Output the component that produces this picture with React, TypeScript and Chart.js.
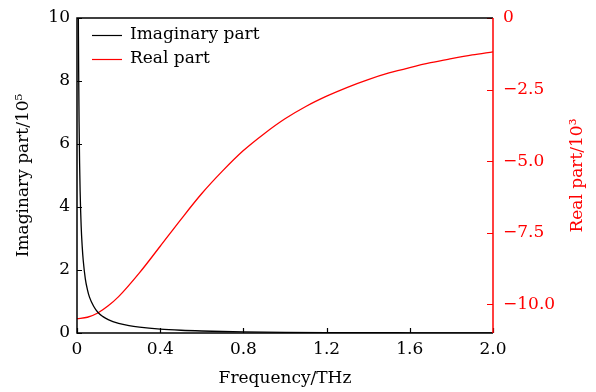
import { useEffect, useRef } from 'react';
import { Chart, registerables } from 'chart.js';

Chart.register(...registerables);

// Frequency (THz) samples for the imaginary part curve
const freqImag = [0.0065, 0.008, 0.01, 0.0125, 0.015, 0.02, 0.025, 0.03, 0.04, 0.05, 0.06, 0.08, 0.1, 0.125, 0.15, 0.2, 0.25, 0.3, 0.4, 0.5, 0.6, 0.7, 0.8, 0.9, 1.0, 1.2, 1.4, 1.6, 1.8, 2.0];
// Imaginary part (x10^5)
const imagValues = [10.0, 8.3, 6.7, 5.4, 4.5, 3.4, 2.75, 2.3, 1.72, 1.38, 1.14, 0.85, 0.66, 0.52, 0.425, 0.305, 0.232, 0.185, 0.124, 0.0874, 0.0636, 0.0474, 0.036, 0.0279, 0.0219, 0.0142, 0.0096, 0.0067, 0.0049, 0.0037];

// Frequency (THz) samples for the real part curve
const freqReal = [0, 0.05, 0.1, 0.15, 0.2, 0.3, 0.4, 0.5, 0.6, 0.7, 0.8, 0.9, 1.0, 1.1, 1.2, 1.3, 1.4, 1.5, 1.6, 1.7, 1.8, 1.9, 2.0];
// Real part (x10^3)
const realValues = [-10.5, -10.45, -10.3, -10.05, -9.73, -8.9, -7.97, -7.03, -6.13, -5.34, -4.63, -4.04, -3.52, -3.09, -2.73, -2.42, -2.15, -1.92, -1.73, -1.56, -1.42, -1.29, -1.18];

const xTicks = [0, 0.4, 0.8, 1.2, 1.6, 2.0];
const leftTicks = [0, 2, 4, 6, 8, 10];
const rightTicks = [-10, -7.5, -5, -2.5, 0];

const seriesLabels = ['Imaginary part', 'Real part'];
const xTitle = 'Frequency/THz';
const leftTitle = 'Imaginary part/10⁵';
const rightTitle = 'Real part/10³';

const FONT = '"DejaVu Serif", serif';
const FS = 17;
const RED = '#ff0000';

const framePlugin = {
  id: 'frameTicks',
  afterDraw(chart: any) {
    const { ctx, chartArea: a, scales } = chart;
    const tl = 5;
    ctx.save();
    ctx.lineWidth = 1.2;
    // ticks
    ctx.strokeStyle = '#000';
    ctx.beginPath();
    scales.x.ticks.forEach((t: any) => {
      const px = Math.round(scales.x.getPixelForValue(t.value)) + 0.5;
      ctx.moveTo(px, a.bottom);
      ctx.lineTo(px, a.bottom - tl);
    });
    scales.y.ticks.forEach((t: any) => {
      const py = Math.round(scales.y.getPixelForValue(t.value)) + 0.5;
      ctx.moveTo(a.left, py);
      ctx.lineTo(a.left + tl, py);
    });
    ctx.stroke();
    ctx.strokeStyle = RED;
    ctx.beginPath();
    scales.y2.ticks.forEach((t: any) => {
      const py = Math.round(scales.y2.getPixelForValue(t.value)) + 0.5;
      ctx.moveTo(a.right, py);
      ctx.lineTo(a.right - tl - 1, py);
    });
    ctx.stroke();
    // frame
    ctx.lineWidth = 1.5;
    ctx.strokeStyle = '#000';
    ctx.beginPath();
    ctx.moveTo(a.right, a.top);
    ctx.lineTo(a.left, a.top);
    ctx.lineTo(a.left, a.bottom);
    ctx.lineTo(a.right, a.bottom);
    ctx.stroke();
    ctx.strokeStyle = RED;
    ctx.beginPath();
    ctx.moveTo(a.right, a.top);
    ctx.lineTo(a.right, a.bottom);
    ctx.stroke();
    // legend
    ctx.font = `${FS}px ${FONT}`;
    ctx.textBaseline = 'middle';
    ctx.textAlign = 'left';
    chart.data.datasets.forEach((ds: any, i: number) => {
      const y = a.top + 17 + i * 24;
      ctx.strokeStyle = ds.borderColor;
      ctx.lineWidth = 1.2;
      ctx.beginPath();
      ctx.moveTo(a.left + 15, y + 0.5);
      ctx.lineTo(a.left + 45, y + 0.5);
      ctx.stroke();
      ctx.fillStyle = '#000';
      ctx.fillText(ds.label, a.left + 53, y);
    });
    // right title (reads bottom to top)
    ctx.save();
    ctx.translate(578, (a.top + a.bottom) / 2);
    ctx.rotate(-Math.PI / 2);
    ctx.textAlign = 'center';
    ctx.textBaseline = 'middle';
    ctx.fillStyle = RED;
    ctx.fillText(rightTitle, 0, 0);
    ctx.restore();
    ctx.restore();
  },
};

export default function App() {
  const ref = useRef<HTMLCanvasElement>(null);
  useEffect(() => {
    document.body.style.margin = '0';
    const font = { family: FONT, size: FS };
    const chart = new Chart(ref.current!, {
      type: 'line',
      data: {
        datasets: [
          {
            label: seriesLabels[0],
            data: freqImag.map((x, i) => ({ x, y: imagValues[i] })),
            borderColor: '#000000',
            borderWidth: 1.3,
            pointRadius: 0,
            cubicInterpolationMode: 'monotone',
            yAxisID: 'y',
          },
          {
            label: seriesLabels[1],
            data: freqReal.map((x, i) => ({ x, y: realValues[i] })),
            borderColor: RED,
            borderWidth: 1.3,
            pointRadius: 0,
            cubicInterpolationMode: 'monotone',
            yAxisID: 'y2',
          },
        ],
      },
      options: {
        animation: false,
        responsive: false,
        layout: { padding: { top: 18, left: 0, right: 0, bottom: 0 } },
        plugins: { legend: { display: false }, tooltip: { enabled: false } },
        scales: {
          x: {
            type: 'linear',
            position: 'bottom',
            min: 0,
            max: 2,
            grid: { display: false, drawTicks: false },
            border: { display: false },
            afterBuildTicks: (s: any) => { s.ticks = xTicks.map((v) => ({ value: v })); },
            afterFit: (s: any) => { s.height = 59; s.paddingLeft = 0; s.paddingRight = 0; },
            ticks: {
              color: '#000',
              font,
              padding: 6,
              maxRotation: 0,
              callback: (v: any) => (v === 0 ? '0' : Number(v).toFixed(1)),
            },
            title: { display: true, text: xTitle, color: '#000', font, padding: { top: 0, bottom: 3 } },
          },
          y: {
            type: 'linear',
            position: 'left',
            min: 0,
            max: 10,
            grid: { display: false, drawTicks: false },
            border: { display: false },
            afterBuildTicks: (s: any) => { s.ticks = leftTicks.map((v) => ({ value: v })); },
            afterFit: (s: any) => { s.width = 77; s.paddingTop = 0; s.paddingBottom = 0; },
            ticks: { color: '#000', font, padding: 7, callback: (v: any) => String(v) },
            title: { display: true, text: leftTitle, color: '#000', font, padding: { top: 13, bottom: 0 } },
          },
          y2: {
            type: 'linear',
            position: 'right',
            min: -11,
            max: 0,
            grid: { display: false, drawTicks: false },
            border: { display: false },
            afterBuildTicks: (s: any) => { s.ticks = rightTicks.map((v) => ({ value: v })); },
            afterFit: (s: any) => { s.width = 103; s.paddingTop = 0; s.paddingBottom = 0; },
            ticks: {
              color: RED,
              font,
              padding: 10,
              callback: (v: any) => (v === 0 ? '0' : '\u2212' + Math.abs(Number(v)).toFixed(1)),
            },
          },
        },
      },
      plugins: [framePlugin],
    } as any);
    return () => chart.destroy();
  }, []);
  return (
    <div style={{ width: 596, height: 392 }}>
      <canvas ref={ref} width={596} height={392} />
    </div>
  );
}
